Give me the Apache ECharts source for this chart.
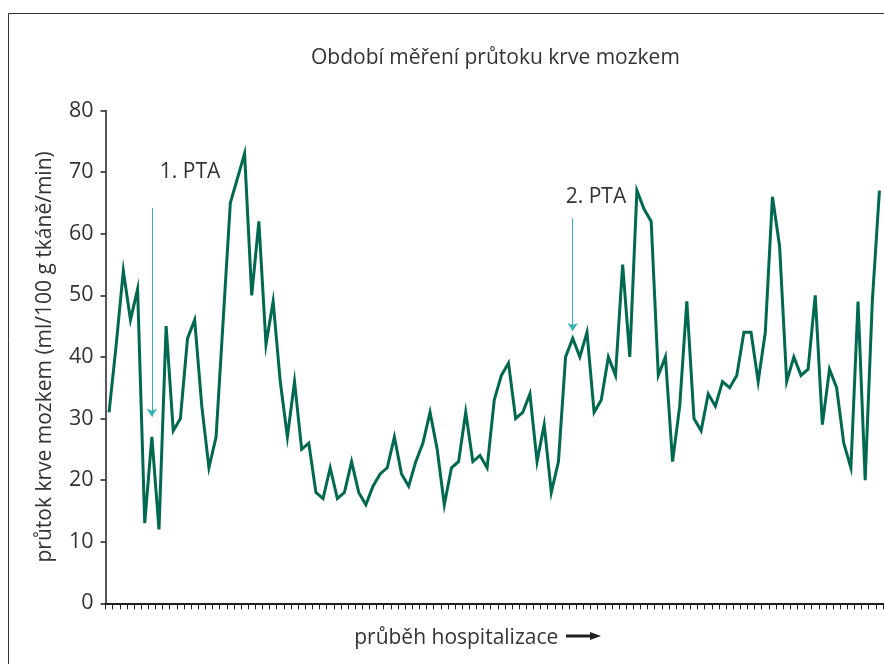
<!DOCTYPE html>
<html>
<head>
<meta charset="utf-8">
<script src="https://cdn.jsdelivr.net/npm/echarts@6/dist/echarts.min.js"></script>
<style>
  html, body { margin: 0; padding: 0; background: #fff; }
  #chart { width: 884px; height: 664px; }
</style>
</head>
<body>
<div id="chart"></div>
<script>
// měření v pořadí hospitalizace
const flow = [
  31, 42, 54, 46, 51, 13, 27, 12, 45, 28,
  30, 43, 46, 32, 22, 27, 46, 65, 69, 73,
  50, 62, 42, 49, 36, 27, 36, 25, 26, 18,
  17, 22, 17, 18, 23, 18, 16, 19, 21, 22,
  27, 21, 19, 23, 26, 31, 25, 16, 22, 23,
  31, 23, 24, 22, 33, 37, 39, 30, 31, 34,
  23, 29, 18, 23, 40, 43, 40, 44, 31, 33,
  40, 37, 55, 40, 67, 64, 62, 37, 40, 23,
  32, 49, 30, 28, 34, 32, 36, 35, 37, 44,
  44, 36, 44, 66, 58, 36, 40, 37, 38, 50,
  29, 38, 35, 26, 22, 49, 20, 49, 67
]
const days = flow.map((v, i) => String(i + 1))
const yTicks = { min: 0, max: 80, step: 10 }

// PTA šipky: [index měření, horní konec, hrot, text, y textu, posun textu]
const ptaMarks = [
  [6, 64.2, 30.3, '1. PTA', 70, 8],
  [65, 62.5, 44.2, '2. PTA', 66, -7]
]

const lineColor = '#00694f'
const arrowColor = '#33b3b5'
const textColor = '#333'
const font = '"Open Sans", "Noto Sans", sans-serif'

const chart = echarts.init(document.getElementById('chart'))
chart.setOption({
  animation: false,
  title: {
    text: 'Období měření průtoku krve mozkem',
    left: 306, top: 43,
    textStyle: { fontFamily: font, fontWeight: 'normal', fontSize: 21, color: textColor }
  },
  grid: { left: 105.5, right: 1, top: 110.5, bottom: 60.7 },
  xAxis: {
    type: 'category',
    data: days,
    boundaryGap: true,
    name: 'průběh hospitalizace',
    nameLocation: 'middle',
    nameGap: 24,
    nameTextStyle: { fontFamily: font, fontSize: 21, color: textColor, padding: [0, 76, 0, 0] },
    axisLine: { lineStyle: { color: '#231f20', width: 2 } },
    axisTick: { show: true, interval: 0, alignWithLabel: false, length: 6, lineStyle: { color: '#231f20', width: 1 } },
    axisLabel: { show: true, interval: 0, formatter: () => '' }
  },
  yAxis: {
    type: 'value',
    min: yTicks.min, max: yTicks.max, interval: yTicks.step,
    name: 'průtok krve mozkem (ml/100 g tkáně/min)',
    nameLocation: 'middle',
    nameGap: 50,
    nameTextStyle: { fontFamily: font, fontSize: 21, color: textColor },
    axisLine: { show: true, lineStyle: { color: '#231f20', width: 1.5 } },
    axisTick: { show: true, length: 5, lineStyle: { color: '#231f20', width: 1.5 } },
    axisLabel: { margin: 12, fontFamily: font, fontSize: 21.5, color: textColor },
    splitLine: { show: false }
  },
  series: [{
    type: 'line',
    data: flow,
    symbol: 'none',
    lineStyle: { color: lineColor, width: 3, join: 'miter' },
    markLine: {
      silent: true,
      symbol: ['none', 'arrow'],
      symbolSize: 8,
      lineStyle: { color: arrowColor, width: 1, type: 'solid' },
      label: { show: false },
      data: ptaMarks.map(m => [{ coord: [m[0], m[1]] }, { coord: [m[0], m[2]] }])
    },
    markPoint: {
      silent: true,
      symbol: 'circle',
      symbolSize: 0,
      label: {
        show: true, position: 'right', distance: 0,
        fontFamily: font, fontSize: 21, color: textColor
      },
      data: ptaMarks.map(m => ({
        coord: [m[0], m[4]],
        label: { formatter: m[3], offset: [m[5], 0] }
      }))
    }
  }],
  graphic: [
    // rámeček obrázku
    {
      type: 'rect', left: 6, top: 11, silent: true,
      shape: { width: 900, height: 700 },
      style: { fill: 'none', stroke: '#333', lineWidth: 1 }
    },
    // šipka za popisem osy x
    {
      type: 'group', left: 566, top: 632, silent: true,
      children: [
        { type: 'rect', shape: { x: 0, y: 2.5, width: 26, height: 3 }, style: { fill: '#231f20' } },
        { type: 'polygon', shape: { points: [[24, 0], [35, 4], [24, 8]] }, style: { fill: '#231f20' } }
      ]
    }
  ]
})
</script>
</body>
</html>
